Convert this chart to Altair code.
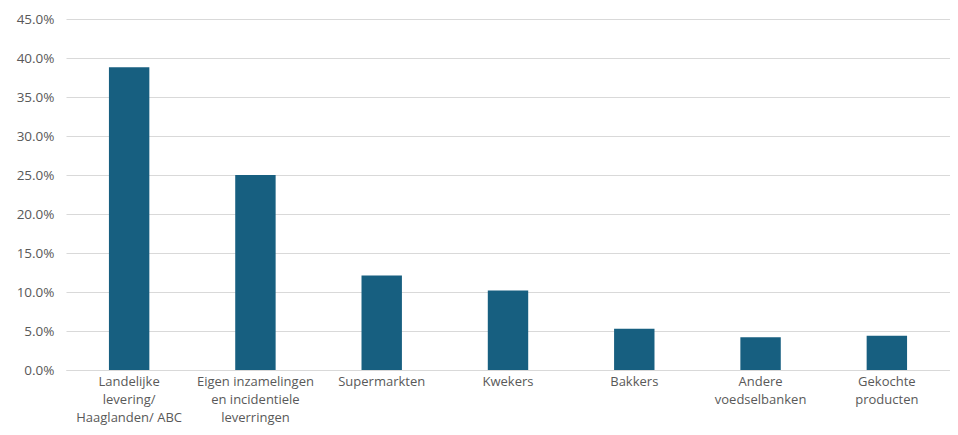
import altair as alt
import pandas as pd

categories = [
    "Landelijke\nlevering/\nHaaglanden/ ABC",
    "Eigen inzamelingen\nen incidentiele\nleverringen",
    "Supermarkten",
    "Kwekers",
    "Bakkers",
    "Andere\nvoedselbanken",
    "Gekochte\nproducten",
]
values = [0.388, 0.250, 0.121, 0.102, 0.053, 0.042, 0.044]
y_ticks = [0.0, 0.05, 0.10, 0.15, 0.20, 0.25, 0.30, 0.35, 0.40, 0.45]

df = pd.DataFrame({"cat": categories, "val": values})

chart = (
    alt.Chart(df)
    .mark_bar(color="#175f80")
    .encode(
        x=alt.X(
            "cat:N",
            sort=categories,
            scale=alt.Scale(paddingInner=0.68, paddingOuter=0.34),
            axis=alt.Axis(
                title=None,
                labelAngle=0,
                labelExpr="split(datum.label, '\\n')",
                labelFont="Open Sans",
                labelFontSize=13,
                labelColor="#595959",
                labelPadding=5,
                labelLineHeight=18,
                labelBaseline="top",
                ticks=False,
                domainColor="#d9d9d9",
                grid=False,
            ),
        ),
        y=alt.Y(
            "val:Q",
            scale=alt.Scale(domain=[0, 0.45], nice=False),
            axis=alt.Axis(
                title=None,
                values=y_ticks,
                format=".1%",
                labelFont="Open Sans",
                labelFontSize=13.5,
                labelColor="#595959",
                labelPadding=12,
                ticks=False,
                domain=False,
                gridColor="#d9d9d9",
            ),
        ),
    )
    .properties(
        width=884,
        height=351,
        autosize=alt.AutoSizeParams(type="none"),
        padding={"left": 58, "top": 11, "right": 0, "bottom": 57},
    )
    .configure_view(stroke=None)
)

chart.save("out.html", embed_options={"renderer": "svg", "actions": False})
